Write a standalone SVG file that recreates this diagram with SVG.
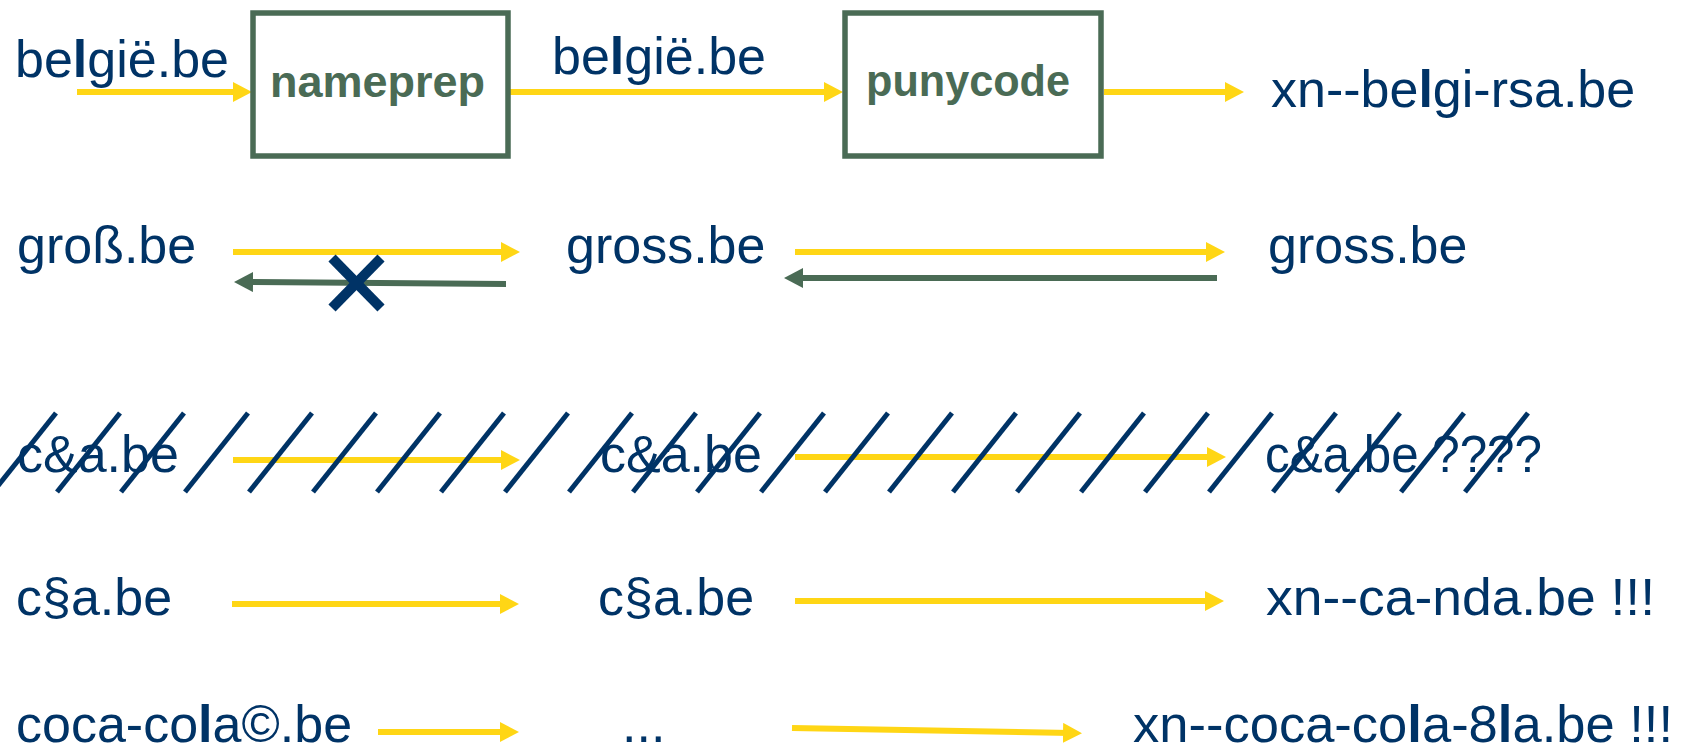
<svg xmlns="http://www.w3.org/2000/svg" width="1696" height="751" viewBox="0 0 1696 751">
<style>
.t{font-family:"Liberation Sans",Arial,sans-serif;font-size:52px;fill:#003366}
.b{font-weight:bold}
.box{fill:none;stroke:#4A6B55;stroke-width:5.5}
.bt{font-family:"Liberation Sans",Arial,sans-serif;font-size:45px;font-weight:bold;fill:#4A6B55}
.y{stroke:#FFD615;stroke-width:6;fill:none;marker-end:url(#ay)}
.g{stroke:#4A6B55;stroke-width:6;fill:none;marker-end:url(#ag)}
.sl{stroke:#003366;stroke-width:5}
.x{stroke:#003366;stroke-width:10}
</style>
<defs>
<marker id="ay" markerUnits="userSpaceOnUse" markerWidth="20" markerHeight="20" refX="8" refY="10" orient="auto"><path d="M0,0 L19,10 L0,20 z" fill="#FFD615"/></marker>
<marker id="ag" markerUnits="userSpaceOnUse" markerWidth="20" markerHeight="20" refX="8" refY="10" orient="auto"><path d="M0,0 L19,10 L0,20 z" fill="#4A6B55"/></marker>
</defs>
<rect width="1696" height="751" fill="#fff"/>
<g id="connectors">
<line class="y" x1="77" y1="92" x2="241" y2="92"/>
<line class="y" x1="508" y1="92" x2="832" y2="92"/>
<line class="y" x1="1104" y1="92" x2="1233" y2="92"/>
<line class="y" x1="233" y1="252" x2="509" y2="252"/>
<line class="g" x1="506" y1="284" x2="245" y2="282"/>
<line class="y" x1="795" y1="252" x2="1214" y2="252"/>
<line class="g" x1="1217" y1="278" x2="795" y2="278"/>
<line class="y" x1="233" y1="460" x2="509" y2="460"/>
<line class="y" x1="795" y1="457" x2="1215" y2="457"/>
<line class="y" x1="232" y1="604" x2="508" y2="604"/>
<line class="y" x1="795" y1="601" x2="1213" y2="601"/>
<line class="y" x1="378" y1="732" x2="508" y2="732"/>
<line class="y" x1="792" y1="728" x2="1071" y2="733"/>
</g>
<g id="n-belgie-in"><text class="t" x="15" y="77">be<tspan class="b">l</tspan>gië.be</text></g>
<g id="n-nameprep"><rect class="box" x="253" y="13" width="255" height="143"/><text class="bt" x="270" y="97">nameprep</text></g>
<g id="n-belgie-mid"><text class="t" x="552" y="74">be<tspan class="b">l</tspan>gië.be</text></g>
<g id="n-punycode"><rect class="box" x="845" y="13" width="256" height="143"/><text class="bt" x="866" y="96" textLength="204" lengthAdjust="spacingAndGlyphs">punycode</text></g>
<g id="n-belgie-out"><text class="t" x="1271" y="107">xn--be<tspan class="b">l</tspan>gi-rsa.be</text></g>
<g id="n-gross-in"><text class="t" x="17" y="263">groß.be</text></g>
<g id="n-gross-mid"><text class="t" x="566" y="263">gross.be</text></g>
<g id="n-gross-out"><text class="t" x="1268" y="263">gross.be</text></g>
<g id="n-ca-in"><text class="t" x="17" y="472">c&amp;a.be</text></g>
<g id="n-ca-mid"><text class="t" x="600" y="472">c&amp;a.be</text></g>
<g id="n-ca-out"><text class="t" x="1265" y="472" textLength="277" lengthAdjust="spacingAndGlyphs">c&amp;a.be ????</text></g>
<g id="n-csa-in"><text class="t" x="16" y="615">c§a.be</text></g>
<g id="n-csa-mid"><text class="t" x="598" y="615">c§a.be</text></g>
<g id="n-csa-out"><text class="t" x="1266" y="615" textLength="389" lengthAdjust="spacingAndGlyphs">xn--ca-nda.be !!!</text></g>
<g id="n-coca-in"><text class="t" x="16" y="742">coca-co<tspan class="b">l</tspan>a©.be</text></g>
<g id="n-coca-mid"><text class="t" x="622" y="742">...</text></g>
<g id="n-coca-out"><text class="t" x="1133" y="742" textLength="540" lengthAdjust="spacingAndGlyphs">xn--coca-co<tspan class="b">l</tspan>a-8<tspan class="b">l</tspan>a.be !!!</text></g>
<g id="cross"><line class="x" x1="332" y1="258" x2="381" y2="308"/><line class="x" x1="381" y1="258" x2="332" y2="308"/></g>
<g id="strike">
<line class="sl" x1="56" y1="413" x2="-7" y2="492"/>
<line class="sl" x1="120" y1="413" x2="57" y2="492"/>
<line class="sl" x1="184" y1="413" x2="121" y2="492"/>
<line class="sl" x1="248" y1="413" x2="185" y2="492"/>
<line class="sl" x1="312" y1="413" x2="249" y2="492"/>
<line class="sl" x1="376" y1="413" x2="313" y2="492"/>
<line class="sl" x1="440" y1="413" x2="377" y2="492"/>
<line class="sl" x1="504" y1="413" x2="441" y2="492"/>
<line class="sl" x1="568" y1="413" x2="505" y2="492"/>
<line class="sl" x1="632" y1="413" x2="569" y2="492"/>
<line class="sl" x1="696" y1="413" x2="633" y2="492"/>
<line class="sl" x1="760" y1="413" x2="697" y2="492"/>
<line class="sl" x1="824" y1="413" x2="761" y2="492"/>
<line class="sl" x1="888" y1="413" x2="825" y2="492"/>
<line class="sl" x1="952" y1="413" x2="889" y2="492"/>
<line class="sl" x1="1016" y1="413" x2="953" y2="492"/>
<line class="sl" x1="1080" y1="413" x2="1017" y2="492"/>
<line class="sl" x1="1144" y1="413" x2="1081" y2="492"/>
<line class="sl" x1="1208" y1="413" x2="1145" y2="492"/>
<line class="sl" x1="1272" y1="413" x2="1209" y2="492"/>
<line class="sl" x1="1336" y1="413" x2="1273" y2="492"/>
<line class="sl" x1="1400" y1="413" x2="1337" y2="492"/>
<line class="sl" x1="1464" y1="413" x2="1401" y2="492"/>
<line class="sl" x1="1528" y1="413" x2="1465" y2="492"/>
</g>
</svg>
